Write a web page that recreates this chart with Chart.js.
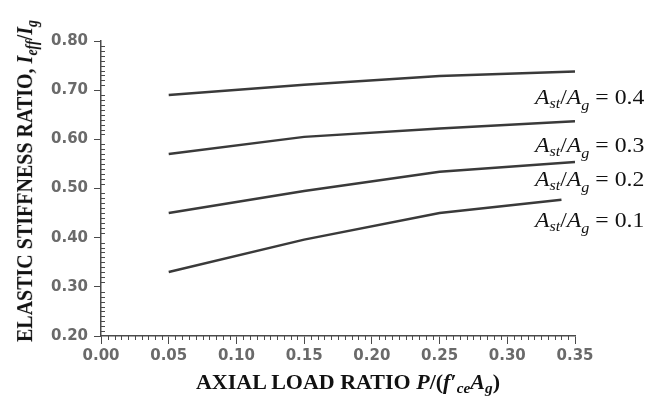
<!DOCTYPE html>
<html>
<head>
<meta charset="utf-8">
<script src="https://cdn.jsdelivr.net/npm/chart.js@4.4.1/dist/chart.umd.min.js"></script>
<style>
  html, body { margin: 0; padding: 0; background: #fff; }
  #wrap { position: relative; width: 657px; height: 396px; }
  #c { position: absolute; left: 0; top: 0; }
  .serif { position: absolute; font-family: 'Liberation Serif', 'Times New Roman', serif; color: #111; white-space: nowrap; }
  .lbl { font-size: 21px; transform: scaleX(1.13); transform-origin: 0 50%; }
  .lbl sub { font-size: 0.68em; vertical-align: -0.3em; line-height: 0; }
  .lbl sub.g { vertical-align: -0.45em; }
  #ytitle { font-size: 20px; font-weight: bold; transform: translate(-50%, -50%) rotate(-90deg) scaleY(1.12); }
  #xtitle { font-size: 20px; font-weight: bold; transform: translate(-50%, -50%) scaleX(1.1); }
  #ytitle sub, #xtitle sub { font-size: 0.7em; vertical-align: -0.3em; line-height: 0; }
</style>
</head>
<body>
<div id="wrap">
  <canvas id="c" width="657" height="396"></canvas>
  <div id="ytitle" class="serif">ELASTIC STIFFNESS RATIO, <i>I<sub>eff</sub></i>/<i>I<sub>g</sub></i></div>
  <div id="xtitle" class="serif">AXIAL LOAD RATIO <i>P</i>/(<i>f</i>&#8242;<sub><i>ce</i></sub><i>A<sub>g</sub></i>)</div>
</div>
<script>
// axial load ratio P/(f'ce Ag) at which each curve was read
const axialRatio = [0.05, 0.15, 0.25, 0.35];
const axialRatioLow = [0.05, 0.15, 0.25, 0.34];

// Ieff/Ig for each Ast/Ag
const ratio04 = [0.69, 0.711, 0.729, 0.738];
const ratio03 = [0.57, 0.605, 0.622, 0.637];
const ratio02 = [0.45, 0.495, 0.534, 0.554];
const ratio01 = [0.33, 0.396, 0.45, 0.477];

const seriesNames = ['0.4', '0.3', '0.2', '0.1'];

const xTicks = [0, 0.05, 0.10, 0.15, 0.20, 0.25, 0.30, 0.35];
const yTicks = [0.20, 0.30, 0.40, 0.50, 0.60, 0.70, 0.80];

function pts(xs, ys) {
  return xs.map((x, i) => ({ x: x, y: ys[i] }));
}

const AXIS = '#4a4a4a';
const LINE = '#3a3a3a';

// labels sit a little below the end of each curve
const labelDy = [28, 26, 19, 22];

const labels = seriesNames.map(n => {
  const d = document.createElement('div');
  d.className = 'serif lbl';
  d.innerHTML = '<i>A<sub>st</sub></i>/<i>A<sub class="g">g</sub></i> = ' + n;
  document.getElementById('wrap').appendChild(d);
  return d;
});

// small ticks between the labelled ones, and html labels placed from the scales
const extras = {
  id: 'extras',
  afterDraw(chart) {
    const ctx = chart.ctx;
    const xs = chart.scales.x, ys = chart.scales.y;
    const area = chart.chartArea;
    ctx.save();
    ctx.strokeStyle = AXIS;
    ctx.lineWidth = 1;
    ctx.beginPath();
    for (let i = 1; i < 70; i++) {
      if (i % 10 === 0) continue;
      const px = Math.round(xs.getPixelForValue(i * 0.005)) + 0.5;
      ctx.moveTo(px, area.bottom);
      ctx.lineTo(px, area.bottom + 4);
    }
    for (let i = 21; i < 80; i++) {
      if (i % 10 === 0) continue;
      const py = Math.round(ys.getPixelForValue(i / 100)) + 0.5;
      ctx.moveTo(area.left, py);
      ctx.lineTo(area.left + 4, py);
    }
    ctx.stroke();
    ctx.restore();

    chart.data.datasets.forEach((ds, i) => {
      const last = ds.data[ds.data.length - 1];
      const py = ys.getPixelForValue(last.y) + labelDy[i];
      const px = xs.getPixelForValue(0.35) - 40;
      labels[i].style.left = px + 'px';
      labels[i].style.top = (py - 14) + 'px';
    });

    const yt = document.getElementById('ytitle');
    yt.style.left = '25px';
    yt.style.top = '181px';
    const xt = document.getElementById('xtitle');
    xt.style.left = ((area.left + area.right) / 2 + 10) + 'px';
    xt.style.top = '382px';
  }
};

window.addEventListener('load', () => {
  const ctx = document.getElementById('c').getContext('2d');
  const mk = (data) => ({
    data: data,
    borderColor: LINE,
    borderWidth: 2.5,
    pointRadius: 0,
    tension: 0,
    fill: false
  });

  new Chart(ctx, {
    type: 'line',
    data: {
      datasets: [
        mk(pts(axialRatio, ratio04)),
        mk(pts(axialRatio, ratio03)),
        mk(pts(axialRatio, ratio02)),
        mk(pts(axialRatioLow, ratio01))
      ]
    },
    options: {
      responsive: false,
      animation: false,
      layout: { padding: { left: 0, top: 41, right: 82, bottom: 0 } },
      plugins: { legend: { display: false }, tooltip: { enabled: false } },
      scales: {
        x: {
          type: 'linear',
          min: 0,
          max: 0.35,
          afterBuildTicks: s => { s.ticks = xTicks.map(v => ({ value: v })); },
          afterFit: s => { s.height = 60; },
          ticks: {
            callback: v => v.toFixed(2),
            color: '#6a6a6a',
            font: { family: 'DejaVu Sans', size: 15, weight: 'bold' },
            padding: 3,
            maxRotation: 0,
            autoSkip: false
          },
          grid: { drawOnChartArea: false, drawTicks: true, tickLength: 8, color: AXIS, lineWidth: 1 },
          border: { display: true, color: AXIS, width: 1.5 }
        },
        y: {
          min: 0.2,
          max: 0.8,
          afterBuildTicks: s => { s.ticks = yTicks.map(v => ({ value: v })); },
          afterFit: s => { s.width = 101; },
          ticks: {
            callback: v => v.toFixed(2),
            color: '#6a6a6a',
            font: { family: 'DejaVu Sans', size: 15, weight: 'bold' },
            padding: 6
          },
          grid: { drawOnChartArea: false, drawTicks: true, tickLength: 7, color: AXIS, lineWidth: 1 },
          border: { display: true, color: AXIS, width: 1.5 }
        }
      }
    },
    plugins: [extras]
  });
});
</script>
</body>
</html>
